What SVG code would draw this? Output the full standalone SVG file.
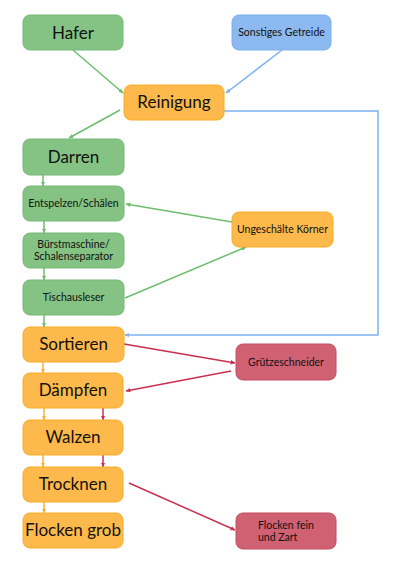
<svg xmlns="http://www.w3.org/2000/svg" width="400" height="564" viewBox="0 0 400 564">
<style>
.g{fill:#84c383;stroke:#74b874;stroke-width:1}
.b{fill:#8bb9f0;stroke:#7aaeea;stroke-width:1}
.o{fill:#fdb94b;stroke:#f8ac25;stroke-width:1}
.r{fill:#d06173;stroke:#c44c60;stroke-width:1}
text{font-family:"Lato","Noto Sans",sans-serif;fill:#111;text-anchor:middle}
.L{font-size:17px}
.S{font-size:10.5px}
.lg{stroke:#6dbe6d;stroke-width:1.5;fill:none}
.lb{stroke:#7fb2ee;stroke-width:1.5;fill:none}
.lo{stroke:#fbb03b;stroke-width:1.5;fill:none}
.lr{stroke:#c9304f;stroke-width:1.5;fill:none}
</style>
<defs>
<marker id="ag" viewBox="0 0 8 8" refX="7" refY="4" markerWidth="5" markerHeight="5" orient="auto" markerUnits="userSpaceOnUse"><path d="M0,0.5 L7.5,4 L0,7.5 Z" fill="#6dbe6d"/></marker>
<marker id="ab" viewBox="0 0 8 8" refX="7" refY="4" markerWidth="5" markerHeight="5" orient="auto" markerUnits="userSpaceOnUse"><path d="M0,0.5 L7.5,4 L0,7.5 Z" fill="#7fb2ee"/></marker>
<marker id="ao" viewBox="0 0 8 8" refX="7" refY="4" markerWidth="5" markerHeight="5" orient="auto" markerUnits="userSpaceOnUse"><path d="M0,0.5 L7.5,4 L0,7.5 Z" fill="#fbb03b"/></marker>
<marker id="ar" viewBox="0 0 8 8" refX="7" refY="4" markerWidth="5" markerHeight="5" orient="auto" markerUnits="userSpaceOnUse"><path d="M0,0.5 L7.5,4 L0,7.5 Z" fill="#c9304f"/></marker>
</defs>
<g id="connectors">
<line class="lg" x1="73" y1="50" x2="123" y2="93" marker-end="url(#ag)"/>
<line class="lb" x1="282" y1="50" x2="226" y2="93" marker-end="url(#ab)"/>
<line class="lg" x1="120" y1="110" x2="69" y2="138" marker-end="url(#ag)"/>
<path class="lb" d="M224,111 H378 V335 H125" marker-end="url(#ab)"/>
<line class="lg" x1="43" y1="175" x2="43" y2="186" marker-end="url(#ag)"/>
<line class="lg" x1="44" y1="221" x2="44" y2="233" marker-end="url(#ag)"/>
<line class="lg" x1="44" y1="268" x2="44" y2="280" marker-end="url(#ag)"/>
<line class="lg" x1="44" y1="315" x2="44" y2="327" marker-end="url(#ag)"/>
<line class="lg" x1="232" y1="222" x2="126" y2="204" marker-end="url(#ag)"/>
<line class="lg" x1="125" y1="298" x2="246" y2="247" marker-end="url(#ag)"/>
<line class="lo" x1="43" y1="362" x2="43" y2="373" marker-end="url(#ao)"/>
<line class="lr" x1="124" y1="344" x2="235" y2="363" marker-end="url(#ar)"/>
<line class="lr" x1="231" y1="371" x2="126" y2="391" marker-end="url(#ar)"/>
<line class="lo" x1="44" y1="408" x2="44" y2="420" marker-end="url(#ao)"/>
<line class="lr" x1="103" y1="408" x2="103" y2="420" marker-end="url(#ar)"/>
<line class="lo" x1="43" y1="455" x2="43" y2="467" marker-end="url(#ao)"/>
<line class="lr" x1="103" y1="455" x2="103" y2="467" marker-end="url(#ar)"/>
<line class="lo" x1="44" y1="502" x2="44" y2="513" marker-end="url(#ao)"/>
<line class="lr" x1="129" y1="483" x2="235" y2="530" marker-end="url(#ar)"/>
</g>
<g id="hafer"><rect class="g" x="23" y="15" width="100" height="35" rx="7"/><text class="L" x="73" y="39">Hafer</text></g>
<g id="sonstiges"><rect class="b" x="232" y="15" width="99" height="35" rx="7"/><text class="S" x="281.5" y="36">Sonstiges Getreide</text></g>
<g id="reinigung"><rect class="o" x="124" y="85" width="100" height="35" rx="7"/><text class="L" x="174" y="108">Reinigung</text></g>
<g id="darren"><rect class="g" x="23" y="139" width="101" height="36" rx="7"/><text class="L" x="73.5" y="163">Darren</text></g>
<g id="entspelzen"><rect class="g" x="23" y="186" width="101" height="35" rx="7"/><text class="S" x="73.5" y="207">Entspelzen/Schälen</text></g>
<g id="buerst"><rect class="g" x="23" y="233" width="101" height="35" rx="7"/><text class="S" x="73.5" y="248">Bürstmaschine/</text><text class="S" x="73.5" y="260">Schalenseparator</text></g>
<g id="tisch"><rect class="g" x="23" y="280" width="101" height="35" rx="7"/><text class="S" x="73.5" y="301">Tischausleser</text></g>
<g id="ungeschaelt"><rect class="o" x="232" y="212" width="101" height="35" rx="7"/><text class="S" x="282.5" y="233">Ungeschälte Körner</text></g>
<g id="sortieren"><rect class="o" x="23" y="327" width="101" height="35" rx="7"/><text class="L" x="73.5" y="350">Sortieren</text></g>
<g id="daempfen"><rect class="o" x="23" y="373" width="100" height="35" rx="7"/><text class="L" x="73" y="396">Dämpfen</text></g>
<g id="walzen"><rect class="o" x="23" y="420" width="100" height="35" rx="7"/><text class="L" x="73" y="443">Walzen</text></g>
<g id="trocknen"><rect class="o" x="23" y="467" width="100" height="35" rx="7"/><text class="L" x="73" y="490">Trocknen</text></g>
<g id="flockengrob"><rect class="o" x="23" y="513" width="100" height="35" rx="7"/><text class="L" x="73" y="536">Flocken grob</text></g>
<g id="gruetze"><rect class="r" x="236" y="344" width="100" height="36" rx="7"/><text class="S" x="286" y="366">Grützeschneider</text></g>
<g id="flockenfein"><rect class="r" x="236" y="513" width="100" height="36" rx="7"/><text class="S" x="258" y="529" style="text-anchor:start">Flocken fein</text><text class="S" x="258" y="541" style="text-anchor:start">und Zart</text></g>
</svg>
